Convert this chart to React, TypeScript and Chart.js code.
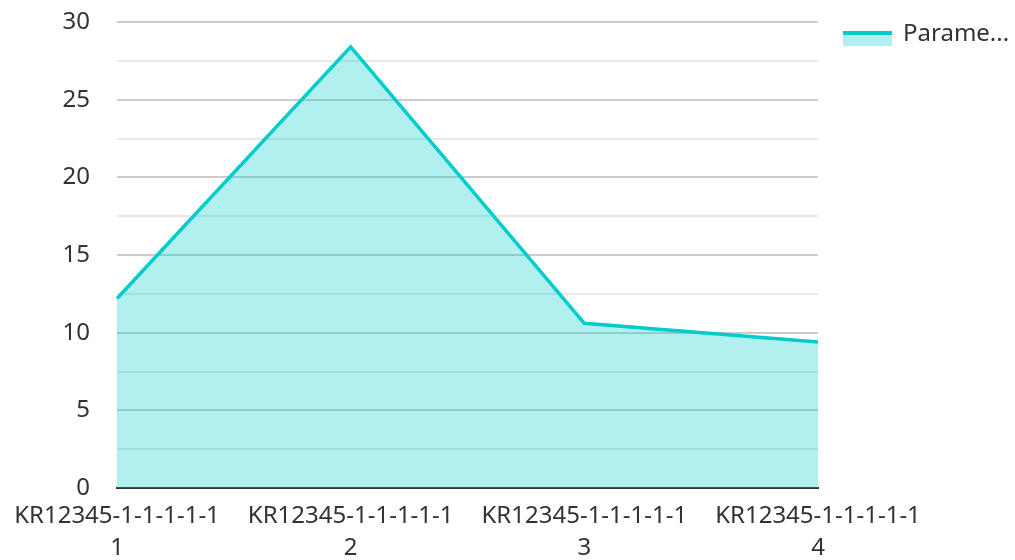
import React, { useEffect, useRef } from "react";
import { Chart, registerables } from "chart.js";

Chart.register(...registerables);

const categories: string[][] = [
  ["KR12345-1-1-1-1-1", "1"],
  ["KR12345-1-1-1-1-1", "2"],
  ["KR12345-1-1-1-1-1", "3"],
  ["KR12345-1-1-1-1-1", "4"],
];
const seriesLabel = "Parame...";
const seriesValues: number[] = [12.2, 28.4, 10.6, 9.4];
const yMin = 0;
const yMax = 30;
const yStep = 2.5;
const yLabelStep = 5;

const LINE = "#00cccc";
const FILL = "rgba(0,204,204,0.3)";
const FONT = "'Noto Sans', 'Open Sans', sans-serif";
const FS = 24;

// Legend drawn next to the plot area (line on top of a filled swatch)
const legendPlugin = {
  id: "areaLegend",
  afterDraw(chart: any) {
    const ctx = chart.ctx;
    const area = chart.chartArea;
    ctx.save();
    chart.data.datasets.forEach((ds: any, i: number) => {
      const x = area.right + 25;
      const top = 31 + i * 36;
      ctx.fillStyle = FILL;
      ctx.fillRect(x, top, 49, 15);
      ctx.fillStyle = LINE;
      ctx.fillRect(x, top, 49, 4);
      ctx.fillStyle = "#333";
      ctx.font = `${FS}px ${FONT}`;
      ctx.textAlign = "left";
      ctx.textBaseline = "alphabetic";
      ctx.fillText(ds.label, x + 60, top + 10);
    });
    ctx.restore();
  },
};

export default function App() {
  const ref = useRef<HTMLCanvasElement | null>(null);
  useEffect(() => {
    if (!ref.current) return;
    const chart = new Chart(ref.current, {
      type: "line",
      data: {
        labels: categories,
        datasets: [
          {
            label: seriesLabel,
            data: seriesValues,
            borderColor: LINE,
            backgroundColor: FILL,
            borderWidth: 3.5,
            fill: "origin",
            pointRadius: 0,
            tension: 0,
          },
        ],
      },
      options: {
        animation: false,
        responsive: false,
        layout: { padding: { top: 0, right: 197, left: 0, bottom: 0 } },
        plugins: {
          tooltip: { enabled: false },
          legend: { display: false },
        },
        scales: {
          x: {
            offset: false,
            grid: { display: false, drawTicks: false },
            border: { display: true, color: "#333", width: 2 },
            ticks: {
              color: "#333",
              font: { family: FONT, size: FS, lineHeight: 1.35 },
              maxRotation: 0,
              autoSkip: false,
              padding: 12,
            },
            afterFit: (scale: any) => {
              scale.height = 72;
            },
          },
          y: {
            min: yMin,
            max: yMax,
            border: { display: false },
            grid: {
              drawTicks: false,
              lineWidth: 2,
              color: (ctx: any) =>
                ctx.tick && ctx.tick.value % yLabelStep === 0 ? "rgba(170,170,170,0.6)" : "rgba(200,200,200,0.4)",
            },
            ticks: {
              stepSize: yStep,
              color: "#333",
              font: { family: FONT, size: FS },
              padding: 27,
              callback: (v: any) => (Number(v) % yLabelStep === 0 ? String(v) : ""),
            },
            afterFit: (scale: any) => {
              scale.width = 117;
              scale.paddingTop = 22;
              scale.paddingBottom = 0;
            },
          },
        },
      },
      plugins: [legendPlugin],
    });
    return () => chart.destroy();
  }, []);
  return (
    <div style={{ position: "fixed", left: 0, top: 0, width: 1015, height: 560, background: "#fff" }}>
      <canvas ref={ref} width={1015} height={560} />
    </div>
  );
}
